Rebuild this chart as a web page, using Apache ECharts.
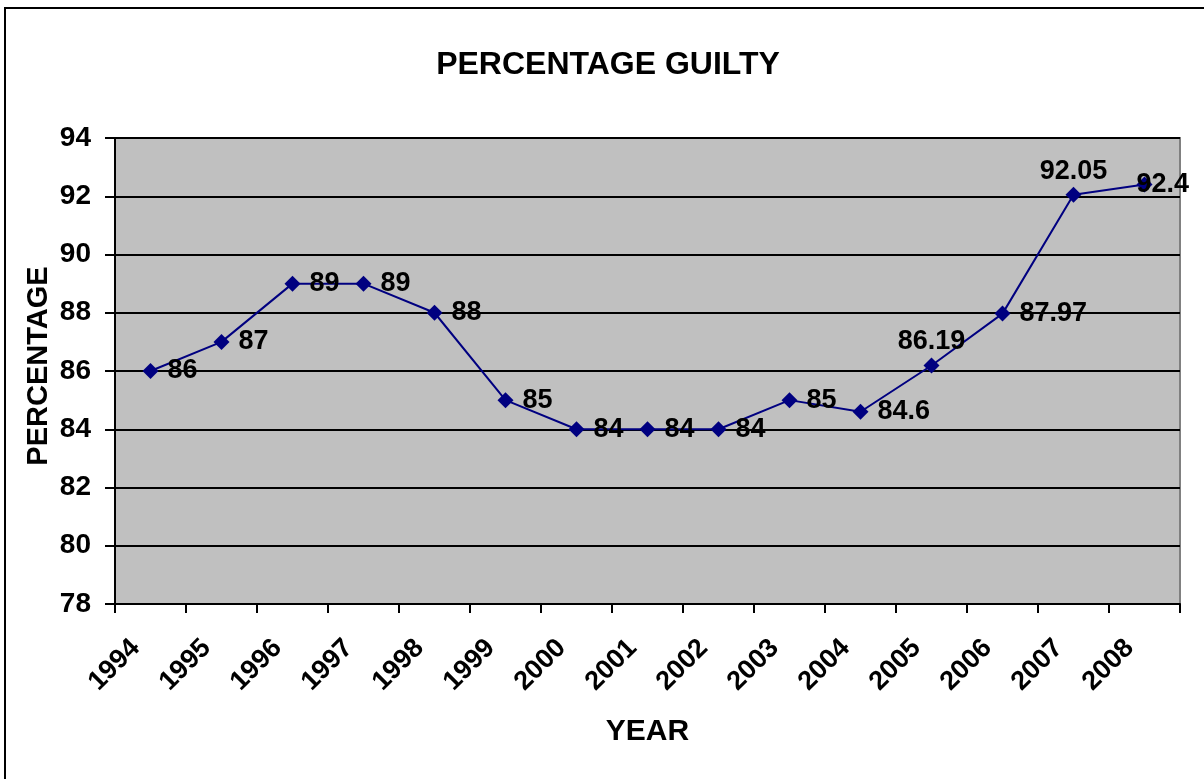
<!DOCTYPE html>
<html>
<head>
<meta charset="utf-8">
<title>PERCENTAGE GUILTY</title>
<script src="https://cdn.jsdelivr.net/npm/echarts@6/dist/echarts.min.js"></script>
<style>
  html, body { margin: 0; padding: 0; background: #fff; }
  #main { width: 1204px; height: 779px; }
</style>
</head>
<body>
<div id="main"></div>
<script>
  // data
  const years = ['1994', '1995', '1996', '1997', '1998', '1999', '2000', '2001',
    '2002', '2003', '2004', '2005', '2006', '2007', '2008']
  const guilty = [86, 87, 89, 89, 88, 85, 84, 84, 84, 85, 84.6, 86.19, 87.97, 92.05, 92.4]
  const yMin = 78
  const yMax = 94
  const yStep = 2

  const font = 'Arial, "Liberation Sans", sans-serif'
  const chart = echarts.init(document.getElementById('main'))

  // some labels sit above the point instead of on the right
  const labelPos = {
    '86.19': { position: 'top', distance: 2 },
    '92.05': { position: 'top', distance: 2 },
    '92.4': { position: 'right', distance: 0, offset: [-16, 0] }
  }
  const points = guilty.map(v => {
    const p = { value: v }
    if (labelPos[String(v)]) p.label = labelPos[String(v)]
    return p
  })

  const option = {
    animation: false,
    textStyle: { fontFamily: font },
    title: {
      text: 'PERCENTAGE GUILTY',
      left: 603,
      top: 44,
      textAlign: 'center',
      textStyle: { fontSize: 32, fontWeight: 'bold', color: '#000', fontFamily: font }
    },
    graphic: [
      {
        type: 'rect',
        shape: { x: 5, y: 8, width: 1220, height: 800 },
        style: { fill: 'none', stroke: '#000', lineWidth: 2 },
        silent: true
      }
    ],
    grid: {
      left: 115,
      top: 138,
      right: 24,
      bottom: 175,
      show: true,
      backgroundColor: '#C0C0C0',
      borderColor: '#808080',
      borderWidth: 2
    },
    xAxis: {
      type: 'category',
      data: years,
      boundaryGap: true,
      name: 'YEAR',
      nameLocation: 'middle',
      nameGap: 113,
      nameTextStyle: { fontSize: 30, fontWeight: 'bold', color: '#000', fontFamily: font },
      axisLine: { lineStyle: { color: '#000', width: 2 } },
      axisTick: { show: true, alignWithLabel: false, length: 9, lineStyle: { color: '#000', width: 2 } },
      axisLabel: {
        rotate: 45,
        interval: 0,
        margin: 25,
        padding: [0, 21, 0, 0],
        fontSize: 27,
        fontWeight: 'bold',
        color: '#000',
        fontFamily: font
      },
      splitLine: { show: false }
    },
    yAxis: {
      type: 'value',
      min: yMin,
      max: yMax,
      interval: yStep,
      name: 'PERCENTAGE',
      nameLocation: 'middle',
      nameGap: 62,
      nameMoveOverlap: false,
      nameTextStyle: { fontSize: 29, fontWeight: 'bold', color: '#000', fontFamily: font, padding: [0, 0, 0, 10] },
      axisLine: { show: true, lineStyle: { color: '#000', width: 2 } },
      axisTick: { show: true, length: 10, lineStyle: { color: '#000', width: 2 } },
      axisLabel: { margin: 24, fontSize: 28, fontWeight: 'bold', color: '#000', fontFamily: font },
      splitLine: { show: true, lineStyle: { color: '#000', width: 2 } }
    },
    series: [
      {
        name: 'PERCENTAGE GUILTY',
        type: 'line',
        data: points,
        symbol: 'diamond',
        symbolSize: 16,
        lineStyle: { color: '#000080', width: 2 },
        itemStyle: { color: '#000080' },
        label: {
          show: true,
          position: 'right',
          distance: 9,
          fontSize: 27,
          fontWeight: 'bold',
          color: '#000',
          fontFamily: font
        }
      }
    ]
  }

  option && chart.setOption(option)
</script>
</body>
</html>
